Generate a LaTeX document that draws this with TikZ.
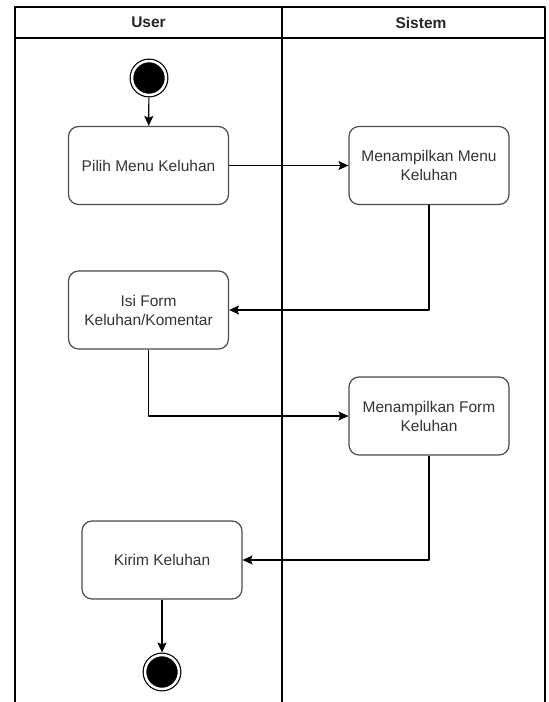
\documentclass[tikz,border=0pt]{standalone}
\usepackage{fontspec}
\setmainfont{Liberation Sans}
\usetikzlibrary{arrows.meta}
\begin{document}
\begin{tikzpicture}[x=1pt,y=-1pt,>={Stealth[length=10pt,width=9pt,inset=2pt]}, line join=round,
            act/.style={draw=black!70,rounded corners=10pt,line width=1.2pt,minimum width=160pt,minimum height=78pt,
                align=center,text=black!80,font=\fontsize{15.5}{19}\selectfont},
            dot/.style={circle,fill=black,draw=black,double=white,double distance=2.5pt,line width=1.2pt,
                minimum size=34pt,inner sep=0pt,outer sep=2.5pt},
            lane/.style={font=\bfseries\fontsize{15.5}{19}\selectfont,text=black!85}]
            \def\xl{15} \def\xm{282} \def\xr{545} \def\yt{7} \def\yh{38} \def\yb{702}
            \useasboundingbox (0,0) rectangle (549,702);
            \draw[line width=1.3pt] (\xl,\yb) -- (\xl,\yt) -- (\xr,\yt) -- (\xr,\yb);
            \draw[line width=1.3pt] (\xl,\yh) -- (\xr,\yh);
            \draw[line width=1.3pt] (\xm,\yt) -- (\xm,\yb);
            \node[lane] (user) at (148.5,22.5) {User};
            \node[lane] (sistem) at (421,22.5) {Sistem};
            \node[dot] (start) at (149,78) {};
            \node[act] (pilih) at (148.5,165.5) {Pilih Menu Keluhan};
            \node[act] (menu) at (429,165.5) {Menampilkan Menu\\Keluhan};
            \node[act] (isi) at (148.5,310) {Isi Form\\Keluhan/Komentar};
            \node[act] (form) at (429,416) {Menampilkan Form\\Keluhan};
            \node[act] (kirim) at (162,560) {Kirim Keluhan};
            \node[dot] (final) at (162,672) {};
            \draw[->,line width=1.2pt] (start) -- (pilih);
            \draw[->,line width=1.2pt] (pilih) -- (menu);
            \draw[->,line width=1.2pt] (menu.south) |- (isi.east);
            \draw[->,line width=1.2pt] (isi.south) |- (form.west);
            \draw[->,line width=1.2pt] (form.south) |- (kirim.east);
            \draw[->,line width=1.2pt] (kirim) -- (final);
        \end{tikzpicture}
\end{document}
